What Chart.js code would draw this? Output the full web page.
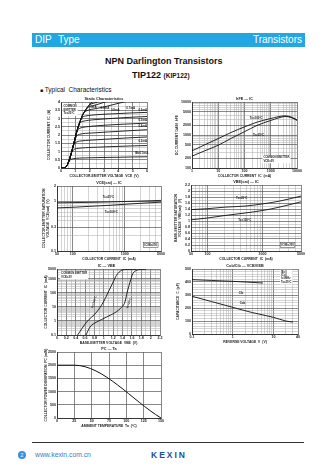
<!DOCTYPE html>
<html>
<head>
<meta charset="utf-8">
<script src="https://cdn.jsdelivr.net/npm/chart.js@4.4.9/dist/chart.umd.min.js"></script>
<style>
html, body { margin: 0; padding: 0; background: #fff; }
body { width: 336px; height: 475px; position: relative; overflow: hidden; font-family: "Liberation Sans", Arial, sans-serif; color: #111; }
.abs { position: absolute; white-space: nowrap; }
canvas { position: absolute; }
</style>
</head>
<body>
<div class="abs" style="left:32px;top:33px;width:273px;height:14px;background:#22a7e2;"></div>
<div class="abs" style="left:35px;top:33px;line-height:14px;font-size:10px;color:#fff;">DIP</div>
<div class="abs" style="left:58px;top:33px;line-height:14px;font-size:10px;color:#fff;">Type</div>
<div class="abs" style="right:34px;top:33px;line-height:14px;font-size:10px;color:#fff;">Transistors</div>
<div class="abs" style="left:105px;top:56px;line-height:10px;font-size:9px;font-weight:bold;">NPN Darlington Transistors</div>
<div class="abs" style="left:132px;top:70px;line-height:10px;font-size:9px;font-weight:bold;">TIP122 <span style="font-size:6.5px;">(KIP122)</span></div>
<div class="abs" style="left:40px;top:86px;line-height:8px;font-size:6.5px;"><span style="font-size:5px;">&#9632;</span> Typical&nbsp;&nbsp;Characteristics</div>

<div class="abs" style="left:32px;top:442px;width:272px;height:1px;background:#333;"></div>
<div class="abs" style="left:18px;top:451px;width:8px;height:8px;border-radius:50%;background:#3b8ee0;color:#fff;font-size:5px;line-height:8px;text-align:center;">2</div>
<div class="abs" style="left:35px;top:451px;line-height:8px;font-size:6.8px;color:#3a7cc8;">www.kexin.com.cn</div>
<div class="abs" style="left:151px;top:450px;line-height:10px;font-size:8.5px;font-weight:bold;letter-spacing:2px;color:#1d4b9b;">KEXIN</div>

<script>
// ---- Static characteristics (IC vs VCE) ----
const vceGrid = [0, 0.3, 0.45, 0.6, 0.75, 0.9, 1.1, 1.3, 1.5, 1.7, 1.9, 2.1, 2.5, 3, 4, 5, 6];
const ic01 = [0, 0.03, 0.2, 0.45, 0.54, 0.57, 0.59, 0.6, 0.61, 0.61, 0.62, 0.62, 0.63, 0.64, 0.65, 0.67, 0.68];
const ic02 = [0, 0.03, 0.2, 0.55, 0.95, 1.12, 1.18, 1.2, 1.22, 1.23, 1.24, 1.25, 1.26, 1.28, 1.31, 1.34, 1.36];
const ic03 = [0, 0.03, 0.2, 0.55, 1.0, 1.42, 1.58, 1.63, 1.65, 1.67, 1.68, 1.69, 1.71, 1.74, 1.79, 1.84, 1.88];
const ic04 = [0, 0.03, 0.2, 0.55, 1.0, 1.5, 1.95, 2.04, 2.08, 2.1, 2.11, 2.12, 2.14, 2.17, 2.22, 2.27, 2.32];
const ic05 = [0, 0.03, 0.2, 0.55, 1.0, 1.5, 2.2, 2.4, 2.46, 2.49, 2.51, 2.53, 2.56, 2.59, 2.64, 2.68, 2.72];
const ic06 = [0, 0.03, 0.2, 0.55, 1.0, 1.5, 2.2, 2.7, 2.82, 2.86, 2.89, 2.91, 2.94, 2.97, 3.03, 3.08, 3.12];
const ic07 = [0, 0.03, 0.2, 0.55, 1.0, 1.5, 2.2, 2.75, 3.08, 3.15, 3.18, 3.2, 3.23, 3.26, 3.3, 3.34, 3.37];
const ic08 = [0, 0.03, 0.2, 0.55, 1.0, 1.5, 2.2, 2.75, 3.2, 3.42, 3.5, 3.55, 3.61, 3.7, 3.92, 4.12, 4.3];
const ic09 = [0, 0.03, 0.2, 0.55, 1.0, 1.5, 2.2, 2.75, 3.2, 3.5, 3.67, 3.75, 3.84, 3.98, 4.25, 4.5, 4.7];
const ic10 = [0, 0.03, 0.2, 0.55, 1.0, 1.5, 2.2, 2.75, 3.2, 3.5, 3.75, 3.88, 3.98, 4.15, 4.5, 4.8, 5.1];
const ic11 = [0, 0.03, 0.2, 0.55, 1.0, 1.5, 2.2, 2.75, 3.2, 3.5, 3.75, 3.95, 4.12, 4.3, 4.7, 5.0, 5.3];
const staticXLabels = [0, 1, 2, 3, 4, 5, 6];
const staticYLabels = [0, 0.5, 1, 1.5, 2, 2.5, 3, 3.5, 4];

// ---- hFE vs IC ----
const icGain = [1, 3, 10, 30, 100, 300, 1000, 2000, 3500, 6000, 10000];
const hfeHot = [331, 500, 780, 1180, 1760, 2450, 3162, 3600, 3800, 3500, 2884];
const hfeRoom = [229, 330, 490, 780, 1259, 1950, 2754, 3300, 3631, 3400, 2754];
const gainXLabels = [1, 10, 100, 1000, 10000];
const gainYLabels = [100, 200, 500, 1000, 2000, 5000, 10000];

// ---- VCE(sat) and VBE(sat) vs IC ----
const icSat = [50, 100, 200, 500, 1000, 2000, 5000];
const vceSatRoom = [0.92, 0.93, 0.94, 0.96, 0.98, 1.0, 1.03];
const vceSatHot = [0.73, 0.75, 0.78, 0.82, 0.86, 0.9, 0.95];
const satXLabels = [50, 100, 1000, 5000];
const vceSatYLabels = [0.1, 0.3, 1, 2];
const vbeSatRoom = [1.38, 1.41, 1.46, 1.5, 1.57, 1.66, 1.83];
const vbeSatHot = [1.04, 1.1, 1.18, 1.27, 1.35, 1.46, 1.64];
const vbeSatYLabels = [0, 0.2, 0.4, 0.6, 0.8, 1, 1.2, 1.4, 1.6, 1.8, 2, 2.2];

// ---- IC vs VBE ----
const vbeHot = [0.44, 0.634, 0.847, 0.99, 1.096, 1.2, 1.27, 1.38, 1.5, 1.7];
const icHot = [0.1, 0.84, 4.3, 22, 115, 590, 1770, 4000, 4700, 4800];
const vbeRoom = [0.62, 0.705, 0.847, 1.06, 1.35, 1.45, 1.5, 1.56, 1.62, 1.7, 1.78, 1.9];
const icRoom = [0.1, 0.37, 0.84, 1.9, 7.5, 22, 115, 590, 2350, 4000, 4700, 4800];
const vbeXLabels = [0, 0.2, 0.4, 0.6, 0.8, 1, 1.2, 1.4, 1.6, 1.8, 2, 2.2];
const vbeYLabels = [0.1, 1, 10, 100, 1000, 5000];

// ---- Capacitance vs reverse voltage ----
const vrCib = [0.1, 0.3, 1, 3, 5.5];
const cib = [418, 412, 405, 397, 392];
const vrCob = [0.1, 0.3, 1, 3, 10, 20, 30];
const cob = [290, 250, 205, 165, 128, 100, 92];
const capXLabels = [0.1, 1, 10, 40];
const capYLabels = [0, 100, 200, 300, 400, 500];

// ---- PC vs Ta ----
const ta = [0, 25, 150];
const pc = [2000, 2000, 0];
const taLabels = [0, 25, 50, 75, 100, 125, 150];
const pcLabels = [0, 500, 1000, 1500, 2000, 2500];

const MAJ = '#555', MIN = '#a8a8a8';

function linTicks(min, max, step) {
  const out = [];
  const n = Math.round((max - min) / step);
  for (let i = 0; i <= n; i++) out.push(+(min + i * step).toFixed(6));
  return out;
}
function logTicks(min, max) {
  const out = [];
  for (let e = Math.floor(Math.log10(min)); e <= Math.ceil(Math.log10(max)); e++) {
    for (let m = 1; m < 10; m++) {
      const v = +(m * Math.pow(10, e)).toPrecision(6);
      if (v >= min * 0.9999 && v <= max * 1.0001) out.push(v);
    }
  }
  if (out[0] > min) out.unshift(min);
  if (out[out.length - 1] < max) out.push(max);
  return out;
}
const near = (a, b) => Math.abs(a - b) <= 1e-6 * Math.max(1, Math.abs(b));

function axis(type, min, max, grid, labels, title, size) {
  const isLab = v => labels.some(l => near(v, l));
  return {
    type, min, max,
    afterBuildTicks: s => { s.ticks = grid.map(v => ({ value: v })); },
    afterFit: s => { if (s.isHorizontal()) s.height = size; else s.width = size; },
    ticks: {
      autoSkip: false, maxRotation: 0, minRotation: 0, padding: 1, color: '#222',
      font: { size: 3.6, weight: 'bold' },
      callback: v => isLab(v) ? String(+(+v).toPrecision(6)) : ''
    },
    grid: {
      drawTicks: false,
      color: c => (c.tick && isLab(c.tick.value)) ? MAJ : MIN,
      lineWidth: c => (c.tick && isLab(c.tick.value)) ? 0.7 : 0.5
    },
    border: { color: '#222', width: 0.8 },
    title: { display: true, text: title, color: '#222', font: { size: 3.4, weight: 'bold' }, padding: 0 }
  };
}

function line(xs, ys, w) {
  return {
    data: xs.map((x, i) => ({ x, y: ys[i] })),
    borderColor: '#111', borderWidth: w || 0.9, pointRadius: 0, fill: false,
    cubicInterpolationMode: 'monotone'
  };
}

function notesPlugin(items) {
  return {
    id: 'notes',
    afterDraw(chart) {
      const { ctx, chartArea: a } = chart;
      for (const n of items) {
        const lines = [].concat(n.t);
        const s = n.s || 3.3;
        ctx.save();
        ctx.font = 'bold ' + s + 'px "Liberation Sans"';
        const x = a.left + n.fx * (a.right - a.left) + (n.dx || 0);
        const y = a.top + n.fy * (a.bottom - a.top) + (n.dy || 0);
        ctx.translate(x, y);
        if (n.rot) ctx.rotate(n.rot * Math.PI / 180);
        ctx.textAlign = n.al || 'left';
        ctx.textBaseline = 'middle';
        const lh = s * 1.2;
        if (n.box) {
          const wm = Math.max(...lines.map(l => ctx.measureText(l).width));
          const bx = n.al === 'center' ? -wm / 2 : n.al === 'right' ? -wm : 0;
          ctx.fillStyle = '#fff';
          ctx.fillRect(bx - 1, -lh / 2 - 0.8, wm + 2, lh * lines.length + 1.6);
          if (n.box === 'line') {
            ctx.strokeStyle = '#333'; ctx.lineWidth = 0.5;
            ctx.strokeRect(bx - 1, -lh / 2 - 0.8, wm + 2, lh * lines.length + 1.6);
          }
        }
        ctx.fillStyle = '#1a1a1a';
        lines.forEach((l, i) => ctx.fillText(l, 0, i * lh));
        ctx.restore();
      }
    }
  };
}

function makeChart(rect, m, datasets, xAxis, yAxis, notes) {
  const [L, T, R, B] = rect;
  const c = document.createElement('canvas');
  const w = R - L + m.l + m.r, h = B - T + m.t + m.b;
  c.width = w; c.height = h;
  c.style.left = (L - m.l) + 'px'; c.style.top = (T - m.t) + 'px';
  c.style.width = w + 'px'; c.style.height = h + 'px';
  document.body.appendChild(c);
  new Chart(c, {
    type: 'line',
    data: { datasets },
    options: {
      responsive: false, animation: false, devicePixelRatio: 1,
      layout: { padding: { top: m.t, right: m.r, left: 0, bottom: 0 } },
      scales: { x: xAxis, y: yAxis },
      plugins: { legend: { display: false }, tooltip: { enabled: false } }
    },
    plugins: [notesPlugin(notes)]
  });
}

Chart.defaults.font.family = '"Liberation Sans", Arial, sans-serif';

// Static characteristics
makeChart([61, 102, 147, 168], { l: 14, t: 10, r: 8, b: 10 },
  [ic01, ic02, ic03, ic04, ic05, ic06, ic07, ic08, ic09, ic10, ic11].map(c => line(vceGrid, c)),
  axis('linear', 0, 6, linTicks(0, 6, 0.5), staticXLabels, 'COLLECTOR-EMITTER VOLTAGE  VCE  (V)', 10),
  axis('linear', 0, 4, linTicks(0, 4, 0.25), staticYLabels, 'COLLECTOR CURRENT  IC  (A)', 14),
  [
    { t: 'Static Characteristics', fx: 0.5, fy: 0, dy: -3, al: 'center', s: 3.8 },
    { t: ['COMMON', 'EMITTER', 'Tc=25\u00b0C'], fx: 0.03, fy: 0.07, s: 2.8, box: true },
    { t: '1mA', fx: 0.34, fy: 0.08, s: 2.9 },
    { t: '0.9mA', fx: 0.46, fy: 0.1, s: 2.9 },
    { t: '0.8mA', fx: 0.58, fy: 0.12, s: 2.9 },
    { t: '0.7mA', fx: 0.76, fy: 0.09, s: 2.9 },
    { t: '0.6mA', fx: 0.9, fy: 0.12, s: 2.9 },
    { t: '0.5mA', fx: 0.9, fy: 0.27, s: 2.9 },
    { t: '0.4mA', fx: 0.9, fy: 0.37, s: 2.9 },
    { t: '0.2mA', fx: 0.9, fy: 0.6, s: 2.9 },
    { t: 'IB=0.1mA', fx: 0.86, fy: 0.78, s: 2.9 }
  ]);

// hFE - IC
makeChart([192, 102, 297, 168], { l: 17, t: 10, r: 8, b: 10 },
  [line(icGain, hfeHot), line(icGain, hfeRoom)],
  axis('logarithmic', 1, 10000, logTicks(1, 10000), gainXLabels, 'COLLECTOR CURRENT  IC  (mA)', 10),
  axis('logarithmic', 100, 10000, logTicks(100, 10000), gainYLabels, 'DC CURRENT GAIN  hFE', 17),
  [
    { t: 'hFE \u2014 IC', fx: 0.5, fy: 0, dy: -3, al: 'center', s: 3.8 },
    { t: 'Tc=100\u00b0C', fx: 0.55, fy: 0.24, s: 2.9 },
    { t: 'Tc=25\u00b0C', fx: 0.58, fy: 0.5, s: 2.9 },
    { t: ['COMMON EMITTER', 'VCE=3V'], fx: 0.68, fy: 0.84, s: 2.8, box: true }
  ]);

// VCE(sat) - IC
makeChart([57, 186, 161, 251], { l: 15, t: 10, r: 8, b: 10 },
  [line(icSat, vceSatRoom), line(icSat, vceSatHot)],
  axis('logarithmic', 50, 5000, logTicks(50, 5000), satXLabels, 'COLLECTOR CURRENT  IC  (mA)', 10),
  axis('logarithmic', 0.1, 2, logTicks(0.1, 2), vceSatYLabels, ['COLLECTOR-EMITTER SATURATION', 'VOLTAGE  VCE(sat)  (V)'], 15),
  [
    { t: 'VCE(sat) \u2014 IC', fx: 0.5, fy: 0, dy: -3, al: 'center', s: 3.8 },
    { t: 'Tc=25\u00b0C', fx: 0.44, fy: 0.18, s: 2.9 },
    { t: 'Tc=100\u00b0C', fx: 0.46, fy: 0.4, s: 2.9 },
    { t: 'IC/IB=250', fx: 0.84, fy: 0.91, s: 2.8, box: 'line' }
  ]);

// VBE(sat) - IC
makeChart([191, 185, 301, 251], { l: 17, t: 10, r: 8, b: 10 },
  [line(icSat, vbeSatRoom), line(icSat, vbeSatHot)],
  axis('logarithmic', 50, 5000, logTicks(50, 5000), satXLabels, 'COLLECTOR CURRENT  IC  (mA)', 10),
  axis('linear', 0, 2.2, linTicks(0, 2.2, 0.1), vbeSatYLabels, ['BASE-EMITTER SATURATION', 'VOLTAGE  VBE(sat)  (V)'], 17),
  [
    { t: 'VBE(sat) \u2014 IC', fx: 0.5, fy: 0, dy: -3, al: 'center', s: 3.8 },
    { t: 'Tc=25\u00b0C', fx: 0.41, fy: 0.2, s: 2.9 },
    { t: 'Tc=100\u00b0C', fx: 0.43, fy: 0.54, s: 2.9 },
    { t: 'IC/IB=250', fx: 0.82, fy: 0.91, s: 2.8, box: 'line' }
  ]);

// IC - VBE
makeChart([57, 269, 160, 335], { l: 13, t: 10, r: 8, b: 10 },
  [line(vbeHot, icHot), line(vbeRoom, icRoom)],
  axis('linear', 0, 2.2, linTicks(0, 2.2, 0.1), vbeXLabels, 'BASE-EMITTER VOLTAGE  VBE  (V)', 10),
  axis('logarithmic', 0.1, 5000, logTicks(0.1, 5000), vbeYLabels, 'COLLECTOR CURRENT  IC  (mA)', 13),
  [
    { t: 'IC \u2014 VBE', fx: 0.48, fy: 0, dy: -3, al: 'center', s: 3.8 },
    { t: ['COMMON EMITTER', 'VCE=3V'], fx: 0.04, fy: 0.07, s: 2.8, box: true },
    { t: 'Tc=100\u00b0C', fx: 0.36, fy: 0.5, s: 2.8, rot: -72, al: 'center' },
    { t: 'Tc=25\u00b0C', fx: 0.7, fy: 0.52, s: 2.8, rot: -72, al: 'center' }
  ]);

// Cob/Cib - VCB/VEB
makeChart([192, 269, 298, 334], { l: 16, t: 10, r: 8, b: 10 },
  [line(vrCib, cib), line(vrCob, cob)],
  axis('logarithmic', 0.1, 40, logTicks(0.1, 40), capXLabels, 'REVERSE VOLTAGE  V  (V)', 10),
  axis('linear', 0, 500, linTicks(0, 500, 20), capYLabels, 'CAPACITANCE  C  (pF)', 16),
  [
    { t: 'Cob/Cib \u2014 VCB/VEB', fx: 0.5, fy: 0, dy: -3, al: 'center', s: 3.8 },
    { t: 'Cib', fx: 0.44, fy: 0.38, s: 2.9 },
    { t: 'Cob', fx: 0.45, fy: 0.53, s: 2.9 },
    { t: ['IE=0', 'IC=0', 'f=1MHz', 'Ta=25\u00b0C'], fx: 0.84, fy: 0.05, s: 2.7, box: true }
  ]);

// PC - Ta
makeChart([57, 352, 161, 418], { l: 13, t: 10, r: 8, b: 10 },
  [line(ta, pc, 1)],
  axis('linear', 0, 150, linTicks(0, 150, 25), taLabels, 'AMBIENT TEMPERATURE  Ta  (\u00b0C)', 10),
  axis('linear', 0, 2500, linTicks(0, 2500, 500), pcLabels, 'COLLECTOR POWER DISSIPATION  PC (mW)', 13),
  [
    { t: 'PC \u2014 Ta', fx: 0.5, fy: 0, dy: -3, al: 'center', s: 3.8 }
  ]);
</script>
</body>
</html>
